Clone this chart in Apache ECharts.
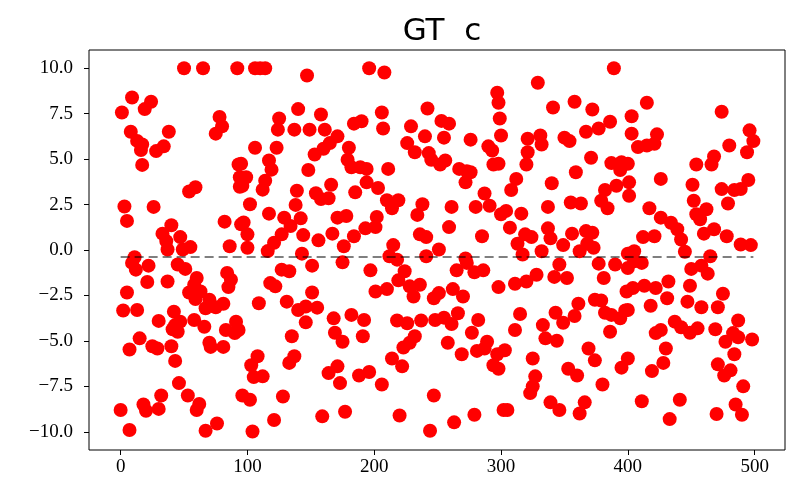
<!DOCTYPE html>
<html>
<head>
<meta charset="utf-8">
<script src="https://cdn.jsdelivr.net/npm/echarts@6/dist/echarts.min.js"></script>
<style>
  html, body { margin: 0; padding: 0; background: #ffffff; }
  #chart { width: 790px; height: 480px; }
</style>
</head>
<body>
<div id="chart"></div>
<script>
// Sample index of each point (x position)
const sampleIndex = [
  50,65,92,9,1,24,19,78,80,75,8,38,13,17,16,28,34,17,59,54,93,94,94,3,5,26,82,95,40,33,36,47,55,49,86,37,11,
  9,12,22,21,37,45,51,5,2,13,30,42,60,58,54,63,59,70,81,75,67,84,87,85,43,47,58,41,45,66,83,91,90,93,15,7,25,29,40,70,71,81,43,46,53,62,60,32,18,20,30,0,7,67,76,96,
  106,110,114,147,196,140,125,124,137,149,158,161,184,190,171,165,160,153,180,179,182,189,194,194,106,123,117,119,95,99,96,114,112,148,102,117,139,138,154,158,164,166,185,129,134,142,127,121,144,97,100,100,116,143,156,167,171,178,176,184,193,
  175,127,133,151,118,122,109,131,151,140,146,155,146,168,169,175,182,192,191,188,135,108,103,105,112,133,137,164,171,173,102,128,121,104,159,177,
  208,297,298,299,300,206,207,242,229,253,259,240,255,276,290,293,226,232,243,245,252,256,267,273,276,272,294,211,203,210,214,219,202,201,238,234,261,259,280,287,291,300,236,241,285,215,212,241,251,272,
  218,197,265,273,279,286,224,219,201,210,228,236,231,247,251,262,270,298,218,226,237,248,255,261,266,282,277,232,228,223,258,269,281,289,287,297,294,298,214,222,196,206,247,220,244,263,279,302,
  389,329,341,358,372,386,377,367,403,403,321,331,332,350,354,321,320,371,387,395,394,359,298,312,308,340,382,391,401,401,379,384,337,355,363,304,316,307,319,324,313,337,339,332,349,356,367,372,368,373,362,400,317,
  346,342,352,377,390,400,381,328,320,311,399,361,374,379,315,343,358,349,333,311,382,387,398,394,386,335,344,303,369,374,325,400,395,353,360,327,325,323,380,339,346,366,362,305,
  415,474,423,408,415,421,496,499,494,480,468,466,454,400,426,451,474,484,489,495,479,452,462,454,457,417,426,434,439,442,460,468,478,412,421,489,497,405,445,465,
  405,411,450,458,463,404,413,422,432,431,449,447,458,471,475,418,400,487,422,426,437,442,449,455,469,477,483,487,498,484,430,428,419,471,476,481,491,411,441,433,470,485,490
];

// Value of each point (y position)
const sampleValue = [
  10,10,10,8.39,7.56,8.15,7.75,7.32,6.8,6.4,6.5,6.5,6.0,5.8,5.5,5.44,5.7,4.68,3.45,3.22,4.7,4.0,3.48,2.39,1.6,2.37,1.56,1.41,1.36,0.9,0.49,0.71,0.16,0.03,0.21,0.03,-0.4,
  -0.71,-1.08,-0.86,-1.76,-1.73,-0.8,-1.04,-2.34,-3.33,-3.3,-3.9,-3.39,-1.54,-1.91,-2.34,-2.28,-2.7,-2.74,-2.96,-3.15,-3.2,-1.26,-1.63,-2.04,-4.13,-3.94,-3.85,-4.36,-4.5,-4.22,-4.4,-3.94,-4.57,-4.4,-4.86,-5.47,-5.29,-5.42,-5.29,-5.1,-5.33,-5.33,-6.1,-7.32,-8.0,-8.47,-8.8,-8.0,-8.5,-8.84,-8.74,-8.8,-9.9,-9.94,-9.54,-8.0,
  10,10,10,9.6,10,7.75,7.23,6.62,6.62,6.62,7.45,6.62,6.95,7.08,6.25,5.88,5.57,5.25,5.62,4.96,4.55,4.55,4.46,3.72,5.62,5.62,4.92,4.42,4.74,4.0,3.53,3.81,3.32,4.4,2.52,2.0,3.26,2.48,3.12,2.8,2.85,3.59,3.17,1.78,1.32,1.74,0.86,0.4,0.82,1.51,0.86,0.12,-0.06,-0.2,0.53,0.9,1.78,1.87,0.21,0.76,1.19,
  -0.68,-1.08,-1.17,-0.86,-1.82,-2.0,-2.93,-2.84,-2.34,-3.3,-3.11,-3.17,-3.98,-3.76,-4.55,-5.05,-3.57,-3.85,-4.74,-6.9,-4.74,-5.84,-6.34,-6.99,-6.95,-6.21,-5.84,-6.77,-6.4,-7.32,-8.24,-8.06,-9.35,-9.98,-9.15,-8.9,
  9.76,8.65,8.1,7.23,6.3,7.56,6.68,7.78,6.8,7.1,6.95,6.25,6.18,6.07,5.7,5.47,5.88,5.38,5.33,4.96,4.7,4.92,4.46,4.33,4.28,3.72,4.7,4.46,3.41,2.74,2.3,2.74,1.82,1.26,2.52,1.93,2.37,1.26,2.37,3.11,2.43,1.97,0.86,0.71,0.76,0.27,-0.34,-0.34,0.03,-0.47,
  -0.53,-1.12,-1.12,-0.71,-1.23,-1.12,-1.17,-1.67,-2.28,-2.15,-2.0,-1.91,-2.56,-2.65,-2.37,-2.15,-2.56,-2.04,-3.88,-4.03,-3.88,-3.85,-3.72,-4.07,-3.48,-3.85,-4.55,-4.74,-5.1,-5.36,-5.1,-5.73,-5.55,-5.05,-5.42,-5.73,-6.34,-6.53,-5.97,-6.4,-6.71,-7.4,-8.0,-9.1,-9.94,-9.48,-9.06,-8.8,
  10,9.2,7.84,8.15,7.73,7.05,6.68,6.5,7.36,6.4,6.12,6.3,5.8,6.18,5.99,5.38,4.7,5.07,4.78,4.83,4.4,4.28,4.74,3.91,3.3,3.67,3.3,3.53,3.72,2.98,2.71,2.3,2.37,2.61,2.56,2.15,2.0,1.23,0.86,0.71,0.34,1.19,0.64,-0.07,0.27,0.9,1.04,0.95,0.34,0.12,-0.07,-0.2,-0.25,
  -0.8,-1.48,-1.54,-0.75,-0.8,-0.99,-1.54,-1.36,-1.73,-1.86,-2.28,-2.96,-2.74,-2.78,-3.52,-3.45,-3.63,-4.0,-4.13,-4.4,-3.45,-3.57,-3.33,-3.76,-4.5,-4.86,-4.99,-5.51,-5.42,-6.07,-5.97,-5.97,-6.47,-6.53,-6.9,-6.95,-7.5,-7.87,-7.4,-8.38,-8.8,-8.38,-8.99,-8.8,
  8.1,7.6,6.36,5.66,5.75,5.84,6.58,5.99,5.38,5.75,5.14,4.7,4.7,4.74,3.91,3.59,3.35,3.3,3.35,3.85,2.56,2.71,2.24,1.97,1.69,2.3,1.78,1.5,1.14,0.58,0.9,1.14,0.76,0.71,0.76,0.3,0.27,-0.07,-0.1,-0.34,
  -0.62,-0.71,-1.04,-0.86,-1.3,-2.09,-1.97,-2.09,-1.73,-2.65,-1.97,-2.84,-3.15,-3.15,-2.41,-3.07,-3.3,-3.88,-4.57,-4.4,-3.94,-4.25,-4.55,-4.31,-4.36,-5.05,-4.57,-4.8,-4.92,-5.73,-5.42,-6.21,-6.66,-6.29,-6.9,-6.62,-7.5,-8.32,-8.24,-9.3,-9.02,-8.5,-9.06
];

// Axis ticks
const xTicks = [0, 100, 200, 300, 400, 500];
const yTicks = [-10, -7.5, -5, -2.5, 0, 2.5, 5, 7.5, 10];

// Horizontal reference level and its span
const refLevel = -0.38;
const refSpan = [0, 499];

const points = sampleIndex.map((x, i) => [x, sampleValue[i]]);

const serif = 'Liberation Serif';
const fmtY = v => (v < 0 ? '\u2212' : '') + Math.abs(v).toFixed(1);

const chart = echarts.init(document.getElementById('chart'), null, { renderer: 'canvas' });
chart.setOption({
  animation: false,
  backgroundColor: '#ffffff',
  title: {
    text: 'GT  c',
    left: 437,
    top: 11,
    textAlign: 'center',
    textStyle: { fontFamily: 'DejaVu Sans', fontSize: 31, fontWeight: 'normal', color: '#000' }
  },
  grid: {
    left: 89, right: 5, top: 50, bottom: 30,
    show: true, borderColor: '#000', borderWidth: 1, backgroundColor: 'transparent'
  },
  xAxis: {
    type: 'value',
    min: -24.95, max: 523.95,
    axisLine: { show: false, onZero: false },
    splitLine: { show: false },
    axisTick: { show: true, length: 5, lineStyle: { color: '#000' }, customValues: xTicks },
    axisLabel: {
      customValues: xTicks, margin: 8,
      fontFamily: serif, fontSize: 19, color: '#000',
      formatter: v => String(v)
    }
  },
  yAxis: {
    type: 'value',
    min: -11, max: 11,
    axisLine: { show: false, onZero: false },
    splitLine: { show: false },
    axisTick: { show: true, length: 5, lineStyle: { color: '#000' }, customValues: yTicks },
    axisLabel: {
      customValues: yTicks, margin: 16,
      fontFamily: serif, fontSize: 19, color: '#000',
      formatter: v => fmtY(v)
    }
  },
  series: [
    {
      type: 'scatter',
      data: points,
      symbol: 'circle',
      symbolSize: 14,
      itemStyle: { color: '#ff0000', opacity: 1 },
      z: 2
    },
    {
      type: 'line',
      data: [[refSpan[0], refLevel], [refSpan[1], refLevel]],
      symbol: 'none',
      lineStyle: { color: 'rgba(0,0,0,0.5)', width: 2, type: [9, 5] },
      z: 3
    }
  ]
});
</script>
</body>
</html>
